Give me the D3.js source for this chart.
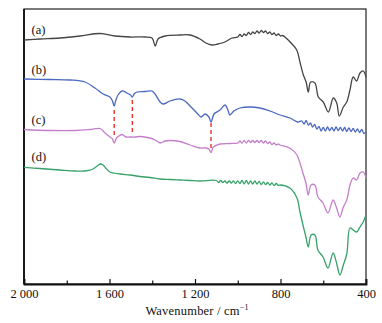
<!DOCTYPE html>
<html>
<head>
<meta charset="utf-8">
<script src="https://cdn.jsdelivr.net/npm/d3@7"></script>
<style>
  html, body { margin: 0; padding: 0; background: #fff; }
  svg { display: block; }
  text { font-family: "Liberation Serif", "DejaVu Serif", serif; fill: #111; }
</style>
</head>
<body>
<svg id="chart" width="382" height="323"></svg>
<script>
// ---- Data (wavenumber in cm^-1, intensity in arbitrary offset units) ----
const xTicks = [2000, 1600, 1200, 800, 400];
const xMinorTicks = [1800, 1400, 1000, 600];
const xTickLabels = ["2 000", "1 600", "1 200", "800", "400"];
const seriesLabels = ["(a)", "(b)", "(c)", "(d)"];
const seriesColors = ["#454545", "#4a68c0", "#c47fcb", "#35a268"];

const spectrumA = [
  [2000,244],[1925,245],[1832,246],[1738,248],[1644,250.5],[1574,248],[1504,247],[1434,247],
  [1401,246],[1386,238],[1373,245],[1340,248],[1270,249],[1223,249],[1177,245],[1149,241],
  [1121,239],[1093,240],[1060,242],[1027,246],
  [1000,247],[990,249.5],[980,247.5],[970,250],[960,248.5],[950,251.5],[940,249.5],[930,252],
  [920,250.5],[910,253],[900,251],[890,253.5],[880,251.5],[870,253],[860,250.5],[850,252],
  [840,249.5],[830,251],[820,248.5],[810,250],[800,248],[790,248.5],
  [774,246],[755,242],[724,234],[709,222],[693,209],[680,202],[670,192],[659,202],
  [639,201],[623,187],[600,182],[576,172],[553,186],[537,181],[525,168],[506,177],[490,182],
  [475,194],[460,207],[444,203],[428,211],[413,213],[400,207]
];
const spectrumB = [
  [2000,205],[1878,204.5],[1785,204],[1715,202],[1668,196],[1630,190],[1598,187],[1586,183],
  [1578,178],[1570,184],[1560,189],[1542,193],[1518,191],[1502,189],[1493,187],[1485,190],
  [1471,192],[1434,192.5],[1401,193],[1387,190],[1363,182],[1349,180],[1317,183],[1270,185],
  [1247,183],[1223,178],[1191,171],[1172,167],[1153,170],[1135,167],[1125,162],[1111,170],
  [1083,174],[1060,179],[1046,174],[1037,169],[1018,173],[990,176],[943,177],[896,176],
  [849,173],[802,169],[755,166],[720,162],
  [700,163],[690,160],[680,163.5],[670,159],[660,161],[650,157],[640,159.5],[630,155],
  [620,157.5],[610,153],[600,156.5],[590,153],[580,157],[570,153.5],[560,156.5],[550,153],
  [540,157],[530,153.5],[520,156.5],[510,153],[500,156.5],[490,152.5],[480,156],[470,152.5],
  [460,155.5],[450,152],[440,155],[430,151.5],[420,154.5],[410,150.5],[400,152]
];
const spectrumC = [
  [2000,154.5],[1878,153.5],[1761,153.5],[1691,154.5],[1644,155.5],[1621,151],[1598,147],
  [1586,145],[1578,141],[1567,146],[1556,148],[1542,149.5],[1523,147],[1504,147],[1481,147],
  [1457,147.5],[1411,146],[1387,144],[1363,141],[1340,143],[1317,143.5],[1270,142.5],
  [1223,139],[1177,136],[1149,136],[1135,135],[1125,131.5],[1114,137],[1083,140],[1037,140.5],
  [1000,141],[990,143],[980,141],[970,143.5],[960,141],[950,143.5],[940,141.5],[930,143.5],
  [920,141.5],[910,143.5],[900,141.5],[890,143.5],[880,141],[870,143],[860,140.5],[850,142],
  [840,139.5],[830,141],[820,139],[810,140],[802,139],
  [755,135.7],[723,129],[709,121],
  [695,111],[681,101],[670,89],[657,99],[639,99],[625,87],[601,81],[578,71],[554,84],
  [539,77],[522,67],[506,77],[490,84],[475,99],[460,106],[444,104],[428,111],[413,112],[400,106]
];
const spectrumD = [
  [2000,116.7],[1925,115.5],[1832,114],[1761,113],[1715,113],[1682,114.5],[1658,118],
  [1644,120],[1630,119],[1616,115.5],[1598,112],[1551,110],[1504,109],[1457,107.5],
  [1411,106.5],[1363,105],[1317,104.5],[1270,104],[1223,103.5],[1177,103],
  [1100,103.5],[1090,101.5],[1080,103.5],[1070,101.5],[1060,103],[1050,101],[1040,103],
  [1030,101],[1020,103],[1010,100.5],[1000,103],[990,100.5],[980,103.5],[970,100],[960,103.5],
  [950,100],[940,103],[930,100],[920,103],[910,100],[900,102.5],[890,99.5],[880,102],
  [870,99.5],[860,101.5],[850,99],[840,101],[830,98.5],[820,100.5],[810,98.5],[802,99],
  [755,95.7],[723,86],[709,72],[695,59],[681,47],[670,37],
  [657,49],[639,49],[625,34],[601,27],[578,16],[554,31],[539,22],[522,9],[506,19],[490,30],
  [475,56],[460,54],[444,52],[428,57],[413,62],[400,69]
];
const spectra = [spectrumA, spectrumB, spectrumC, spectrumD];

// Marker positions (wavenumber) and their vertical extent (same units)
const markerWavenumbers = [1578, 1493, 1125];
const markerTop = [174, 184, 161];
const markerBottom = [147, 151, 134];

// ---- Layout ----
const svg = d3.select("#chart");
const margin = { left: 24, right: 16, top: 9, bottom: 39 };
const W = 382, H = 323;
const x = d3.scaleLinear().domain([2000, 400]).range([margin.left, W - margin.right]);
const y = d3.scaleLinear().domain([0, 275]).range([H - margin.bottom, margin.top]);

// Frame
svg.append("rect")
  .attr("x", x(2000)).attr("y", y(275))
  .attr("width", x(400) - x(2000)).attr("height", y(0) - y(275))
  .attr("fill", "none").attr("stroke", "#222").attr("stroke-width", 1.2);

// Bottom axis (ticks inward)
const xAxis = d3.axisBottom(x).tickValues(xTicks)
  .tickSize(-5).tickPadding(5)
  .tickFormat((d, i) => xTickLabels[i]);
const gx = svg.append("g").attr("transform", `translate(0,${y(0)})`).call(xAxis);
gx.select(".domain").attr("stroke", "#111").attr("stroke-width", 1.8);
gx.selectAll(".tick line").attr("stroke", "#111").attr("stroke-width", 1.2);
gx.selectAll(".tick text").attr("font-size", 12.5)
  .attr("font-family", "Liberation Serif, serif").attr("fill", "#111");

const xMinor = d3.axisBottom(x).tickValues(xMinorTicks).tickSize(-3.5).tickFormat("");
const gxm = svg.append("g").attr("transform", `translate(0,${y(0)})`).call(xMinor);
gxm.select(".domain").remove();
gxm.selectAll(".tick line").attr("stroke", "#111").attr("stroke-width", 1.2);

// Left axis line
svg.append("line")
  .attr("x1", x(2000)).attr("x2", x(2000)).attr("y1", y(0)).attr("y2", y(275))
  .attr("stroke", "#111").attr("stroke-width", 1.8);

// Axis title
const title = svg.append("text")
  .attr("x", (x(2000) + x(400)) / 2 + 2).attr("y", 315)
  .attr("text-anchor", "middle").attr("font-size", 12.5).attr("letter-spacing", 0.2);
title.append("tspan").text("Wavenumber / cm");
title.append("tspan").text("−1").attr("font-size", 8).attr("dy", -5);

// Spectra
const line = d3.line().x(d => x(d[0])).y(d => y(d[1])).curve(d3.curveCatmullRom.alpha(0.5));
spectra.forEach((s, i) => {
  svg.append("path").datum(s)
    .attr("d", line)
    .attr("fill", "none")
    .attr("stroke", seriesColors[i])
    .attr("stroke-width", 1.3)
    .attr("stroke-linejoin", "round");
});

// Red dashed markers
markerWavenumbers.forEach((w, i) => {
  svg.append("line")
    .attr("x1", x(w)).attr("x2", x(w))
    .attr("y1", y(markerTop[i])).attr("y2", y(markerBottom[i]))
    .attr("stroke", "#e8332a").attr("stroke-width", 1.4)
    .attr("stroke-dasharray", "4,3");
});

// Series labels
const labelY = [250, 210, 160, 123];
seriesLabels.forEach((t, i) => {
  svg.append("text").attr("x", x(1965)).attr("y", y(labelY[i]))
    .attr("font-size", 12.5).text(t);
});
</script>
</body>
</html>
